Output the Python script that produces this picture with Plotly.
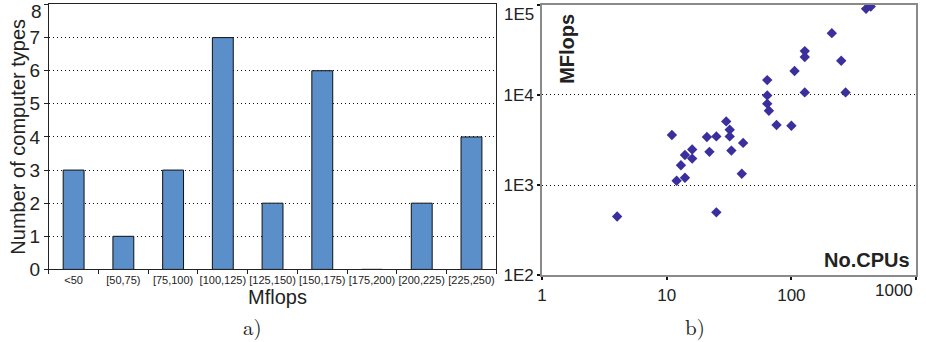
import plotly.graph_objects as go
from plotly.subplots import make_subplots

W, H = 926, 342
KY = 1.031  # vertical stretch applied to layout positions

# (a) histogram of peak Mflops per computer type
mflops_bins = ["<50", "[50,75)", "[75,100)", "[100,125)", "[125,150)",
               "[150,175)", "[175,200)", "[200,225)", "[225,250)"]
type_counts = [3, 1, 3, 7, 2, 6, 0, 2, 4]
count_ticks = [0, 1, 2, 3, 4, 5, 6, 7, 8]

# (b) number of CPUs vs. MFlops
num_cpus = [4, 12, 14, 13, 14, 16, 16, 11, 21, 25, 22, 25, 30, 32, 32, 33, 41,
            40, 64, 64, 64, 66, 76, 100, 106, 128, 128, 128, 211, 251, 272,
            397, 433]
cpu_mflops = [450, 1120, 1210, 1660, 2160, 2480, 1970, 3600, 3420, 3470, 2340,
              500, 5090, 4120, 3470, 2415, 2940, 1340, 14600, 9880, 8000, 6690,
              4650, 4560, 18400, 30600, 26300, 10660, 48400, 23900, 10660,
              89900, 95300]

y_tick_vals = [100, 1000, 10000, 100000]
y_tick_text = ["1E2", "1E3", "1E4", "1E5"]
x_tick_vals = [1, 10, 100, 1000]
x_tick_text = ["1", "10", "100", "1000"]

SANS = "Liberation Sans, Arial, sans-serif"
SERIF = "Latin Modern Roman, DejaVu Serif, Liberation Serif, serif"
INK = "#222222"
DOTS = "1px,3px"


def fy(y):
    """Vertical pixel position -> paper fraction."""
    return 1 - y * KY / H


def px(x, y):
    """Pixel position -> paper coordinates."""
    return x / W, fy(y)


fig = make_subplots(rows=1, cols=2)

fig.add_trace(go.Bar(
    x=mflops_bins, y=type_counts, width=0.42,
    marker=dict(color="#5b8fca", line=dict(color="#111111", width=1)),
    showlegend=False), row=1, col=1)

fig.add_trace(go.Scatter(
    x=num_cpus, y=cpu_mflops, mode="markers",
    marker=dict(symbol="diamond", size=8, color="#3b2f9e", line=dict(width=0)),
    showlegend=False), row=1, col=2)

# the end-of-axis labels are drawn separately (nudged inside the frame)
left_tick_text = [str(v) for v in count_ticks[:-1]] + [""]
right_y_text = y_tick_text[:-1] + [""]
right_x_text = x_tick_text[:-1] + [""]

fig.update_layout(
    width=W, height=H,
    margin=dict(l=0, r=0, t=0, b=0),
    paper_bgcolor="white", plot_bgcolor="white",
    font=dict(family=SANS, color=INK),
    xaxis=dict(domain=[44 / W, 494 / W], type="category",
               range=[-0.5, 8.5], showline=True, linecolor=INK,
               linewidth=1, mirror=True, ticks="outside", ticklen=4,
               tickson="boundaries", tickcolor=INK, tickangle=0,
               tickfont=dict(size=11, family="Liberation Sans Narrow, " + SANS),
               showgrid=False),
    yaxis=dict(domain=[fy(270), fy(4.5)], range=[0, 8],
               tickvals=count_ticks, ticktext=left_tick_text,
               showline=True, linecolor=INK,
               linewidth=1, mirror=True, ticks="outside", ticklen=4,
               tickcolor=INK, tickfont=dict(size=19),
               showgrid=True, gridcolor="#111111", griddash=DOTS,
               gridwidth=1, zeroline=False),
    xaxis2=dict(domain=[540 / W, 916 / W], type="log", range=[0, 3],
                tickvals=x_tick_vals, ticktext=right_x_text,
                showline=True, linecolor="#8a8a8a", linewidth=2, mirror=True,
                ticks="outside", ticklen=3, tickwidth=2, tickcolor="#111111",
                tickfont=dict(size=17), showgrid=False, zeroline=False),
    yaxis2=dict(domain=[fy(276), fy(4.7)], type="log", range=[2, 5],
                tickvals=y_tick_vals, ticktext=right_y_text,
                showline=True, linecolor="#8a8a8a", linewidth=2, mirror=True,
                ticks="outside", ticklen=3, tickwidth=2, tickcolor="#111111",
                tickfont=dict(size=17), showgrid=True, gridcolor="#111111",
                griddash=DOTS, gridwidth=1, zeroline=False),
)

annotations = []


def note(text, x, y, size, rot=0, family=SANS, xanchor="center"):
    ax, ay = px(x, y)
    annotations.append(dict(text=text, x=ax, y=ay, xref="paper", yref="paper",
                            showarrow=False, textangle=rot,
                            font=dict(size=size, family=family, color=INK),
                            xanchor=xanchor, yanchor="middle"))


note("Number of computer types", 13, 137, 20, rot=-90)
note("Mflops", 274, 298, 20)
note("a)", 249, 327, 21, family=SERIF)
note("b)", 694, 327, 21, family=SERIF)
note("<b>MFlops</b>", 565, 49, 20, rot=-90)
note("<b>No.CPUs</b>", 867, 261, 20)

# axis-end labels kept inside the frame
note(str(count_ticks[-1]), 39, 12, 19, xanchor="right")
note(y_tick_text[-1], 534, 15, 17, xanchor="right")
annotations.append(dict(text=x_tick_text[-1], x=3, y=2, xref="x2", yref="y2",
                        showarrow=False, xanchor="right", yanchor="top",
                        xshift=-1, yshift=-4,
                        font=dict(size=17, family=SANS, color=INK)))

fig.update_layout(annotations=annotations)

# page without margin or scrolling
page_css = (
    "var s=document.createElement('style');"
    "s.textContent='html,body{margin:0;padding:0;overflow:hidden;}';"
    "document.head.appendChild(s);"
)
fig.write_html("out.html", post_script=page_css,
               config={"staticPlot": True, "displayModeBar": False})
